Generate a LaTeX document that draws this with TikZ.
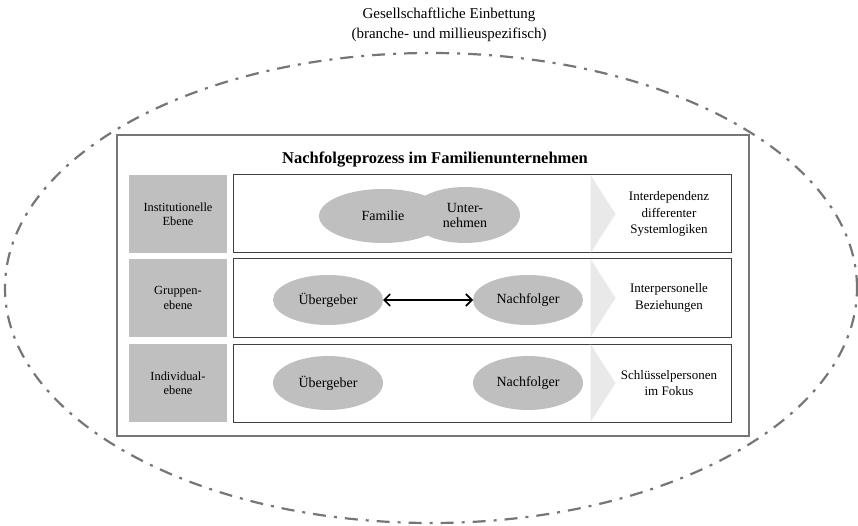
\documentclass[tikz,border=0pt]{standalone}
\usepackage{fontspec}
\setmainfont{Liberation Serif}
\usepackage{tikz}
\usetikzlibrary{shapes.geometric, positioning, arrows.meta, calc}
\definecolor{framegray}{RGB}{118,118,118}
\definecolor{levelgray}{RGB}{191,191,191}
\definecolor{chevgray}{RGB}{233,233,233}

\begin{document}
\begin{tikzpicture}[
      x=1pt, y=-1pt,
      embed/.style={
        ellipse,
        minimum width=852pt,
        minimum height=470pt,
        draw=framegray,
        line width=2.2pt,
        dash pattern=on 13pt off 8pt on 3pt off 8pt,
      },
      levelbox/.style={
        minimum width=98pt,
        minimum height=78pt,
        inner sep=0pt,
        fill=levelgray,
        align=center,
        font=\fontsize{12.4}{14.3}\selectfont,
      },
      contentbox/.style={
        minimum width=498pt,
        minimum height=78pt,
        inner sep=0pt,
        draw=black!75,
        line width=1pt,
        fill=white,
      },
      actor/.style={
        ellipse,
        minimum width=110pt,
        minimum height=52pt,
        inner sep=0pt,
        outer sep=0pt,
        fill=levelgray,
        align=center,
        font=\fontsize{14}{15}\selectfont,
      },
      focus/.style={
        align=center,
        font=\fontsize{13}{16.5}\selectfont,
      },
      chevron/.style={fill=chevgray},
      ]
      \useasboundingbox (0,0) rectangle (858,526);
      % outer context
      \node[embed] (society) at (431,288) {};
      \node[align=center, font=\fontsize{15}{20}\selectfont] (societytext) at (449,25)
        {Gesellschaftliche Einbettung\\(branche- und millieuspezifisch)};
      % main frame
      \draw[framegray, fill=white, line width=2.2pt] (117,135) rectangle (749,436);
      \node[font=\fontsize{16.5}{18}\selectfont\bfseries, anchor=base] (title) at (435,164)
        {Nachfolgeprozess im Familienunternehmen};
      % levels
      \node[levelbox] (inst) at (178,214) {Institutionelle\\Ebene};
      \node[levelbox] (group) at (178,298) {Gruppen-\\ebene};
      \node[levelbox] (indiv) at (178,383) {Individual-\\ebene};
      \node[contentbox] (instrow) at (482,214) {};
      \node[contentbox] (grouprow) at (482,298) {};
      \node[contentbox] (indivrow) at (482,383) {};
      \foreach \r in {instrow, grouprow, indivrow} {
        \fill[chevron] ($(\r.north west)+(358,0.6)$) -- ($(\r.west)+(383,0)$)
          -- ($(\r.south west)+(358,-0.6)$) -- cycle;
      }
      % institutional
      \node[actor, minimum width=128pt, minimum height=54pt] (family) at (383,216) {Familie};
      \node[actor, minimum height=56pt] (firm) at (465,215) {Unter-\\nehmen};
      \node[focus] (instfocus) at (669,214) {Interdependenz\\differenter\\Systemlogiken};
      % group
      \node[actor, minimum height=50pt] (handover) at (328,300) {Übergeber};
      \node[actor, minimum height=50pt] (successor) at (528,300) {Nachfolger};
      \draw[{Straight Barb[length=6pt,width=12pt]}-{Straight Barb[length=6pt,width=12pt]}, line width=1.6pt]
        (handover) -- (successor);
      \node[focus] (groupfocus) at (669,298) {Interpersonelle\\Beziehungen};
      % individual
      \node[actor, minimum height=54pt] (handoverind) at (328,383) {Übergeber};
      \node[actor, minimum height=54pt] (successorind) at (528,383) {Nachfolger};
      \node[focus] (indivfocus) at (669,383) {Schlüsselpersonen\\im Fokus};
    \end{tikzpicture}
\end{document}
